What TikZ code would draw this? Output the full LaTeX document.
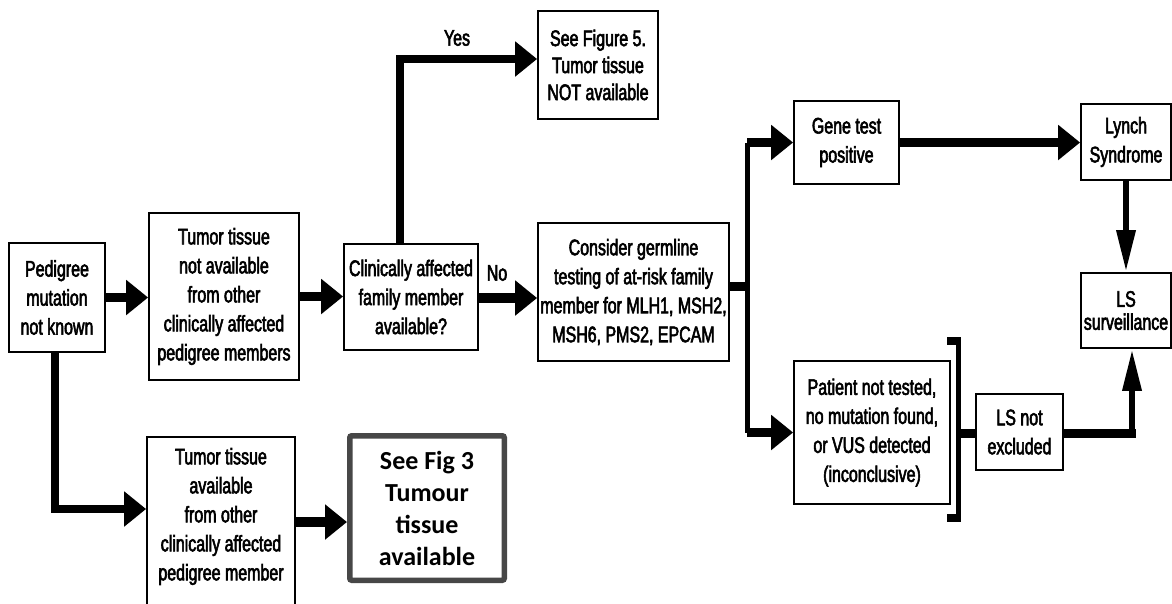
\documentclass[tikz,border=0pt]{standalone}
\usepackage{fontspec}
\setmainfont[FakeStretch=0.71, FakeBold=2.5]{Liberation Sans}
\newfontfamily\calibrifont{Carlito}
\usetikzlibrary{arrows.meta}

\begin{document}
\begin{tikzpicture}[x=1pt,y=-1pt,
  box/.style={draw=black, line width=1.8pt, fill=white, align=center,
    inner sep=0pt, font=\fontsize{22.5}{29}\selectfont},
  figbox/.style={draw=black!72, line width=5.5pt, rounded corners=2pt, fill=white,
    align=center, inner sep=0pt, font=\calibrifont\bfseries\fontsize{26}{32}\selectfont},
  lbl/.style={inner sep=0pt, font=\fontsize{22.5}{29}\selectfont},
  bigarrow/.style={line width=9.5pt, -{Triangle[length=22pt,width=34pt]}},
  midarrow/.style={line width=7.5pt, line join=miter, -{Triangle[length=22pt,width=34pt]}},
  thinarrow/.style={line width=6.5pt, -{Triangle[length=42pt,width=18pt]}},
  thickbar/.style={line width=9pt},
  spine/.style={line width=5pt},
]
\useasboundingbox (0,0) rectangle (1172,603);
\clip (0,0) rectangle (1172,603);

% boxes
\node[box, minimum width=96pt, minimum height=109pt] (ped) at (57,297.5)
  {Pedigree\\mutation\\not known};
\node[box, minimum width=150pt, minimum height=167pt] (na) at (224,296.5)
  {Tumor tissue\\not available\\from other\\clinically affected\\pedigree members};
\node[box, minimum width=134pt, minimum height=106pt] (clin) at (411,297)
  {Clinically affected\\family member\\available?};
\node[box, minimum width=120pt, minimum height=108pt, font=\fontsize{22.5}{27}\selectfont] (fig5) at (598,65)
  {See Figure 5.\\Tumor tissue\\NOT available};
\node[box, minimum width=191pt, minimum height=138pt] (germ) at (633.5,292)
  {Consider germline\\testing of at-risk family\\member for MLH1, MSH2,\\MSH6, PMS2, EPCAM};
\node[box, minimum width=105pt, minimum height=83pt] (gene) at (846.5,142.5)
  {Gene test\\positive};
\node[box, minimum width=90pt, minimum height=76pt] (lynch) at (1126,142)
  {Lynch\\Syndrome};
\node[box, minimum width=90pt, minimum height=75pt, font=\fontsize{22.5}{23}\selectfont] (lss) at (1126,310.5)
  {LS\\surveillance};
\node[box, minimum width=156pt, minimum height=143pt] (pat) at (872,432.5)
  {Patient not tested,\\no mutation found,\\or VUS detected\\(inconclusive)};
\node[box, minimum width=87pt, minimum height=76pt] (lsn) at (1019.5,432)
  {LS not\\excluded};
\node[box, minimum width=148pt, minimum height=192pt] (av) at (221,533)
  {Tumor tissue\\available\\from other\\clinically affected\\pedigree member\\\strut};
\node[figbox, minimum width=154.5pt, minimum height=144.5pt] (fig3) at (427,508)
  {See Fig 3\\Tumour\\tissue\\available};

% branch labels
\node[lbl] (yes) at (457,38) {Yes};
\node[lbl] (no) at (497,273) {No};

% left column
\draw[bigarrow] (ped.east) -- (ped.east -| na.west);
\draw[bigarrow] (na.east) -- (na.east -| clin.west);
\draw[midarrow] ([xshift=-2pt]ped.south) |- ([yshift=24pt]av.west);
\draw[bigarrow] ([yshift=-14pt]fig3.west -| av.east) -- ([yshift=-14pt]fig3.west);

% decision
\draw[midarrow] ([xshift=-11pt]clin.north) |- ([yshift=6pt]fig5.west);
\draw[bigarrow] ([yshift=-1pt]clin.east) -- ([yshift=-1pt]clin.east -| germ.west);

% germline testing outcomes
\coordinate (split) at (747,286);
\draw[thickbar] (germ.east |- split) -- (split);
\draw[spine] (split |- gene.west) -- (split |- pat.west);
\draw[bigarrow] (split |- gene.west) -- (gene.west);
\draw[bigarrow] (split |- pat.west) -- (pat.west);
\draw[bigarrow] (gene.east) -- (gene.east -| lynch.west);
\draw[thinarrow] (lynch.south) -- (lss.north);

% bracket round the inconclusive results
\coordinate (brk) at (958,433);
\draw[spine] (958,337) -- (958,522);
\fill (947,337) rectangle (960.5,345);
\fill (947,514) rectangle (960.5,522);
\draw[thickbar] (brk) -- (brk -| lsn.west);

% LS not excluded leads to surveillance
\coordinate (turn) at (1132,433);
\draw[thickbar] (lsn.east |- turn) -- ([xshift=3.5pt]turn);
\draw[thinarrow] ([yshift=-4.5pt]turn) -- ([xshift=6pt]lss.south);
\end{tikzpicture}
\end{document}
